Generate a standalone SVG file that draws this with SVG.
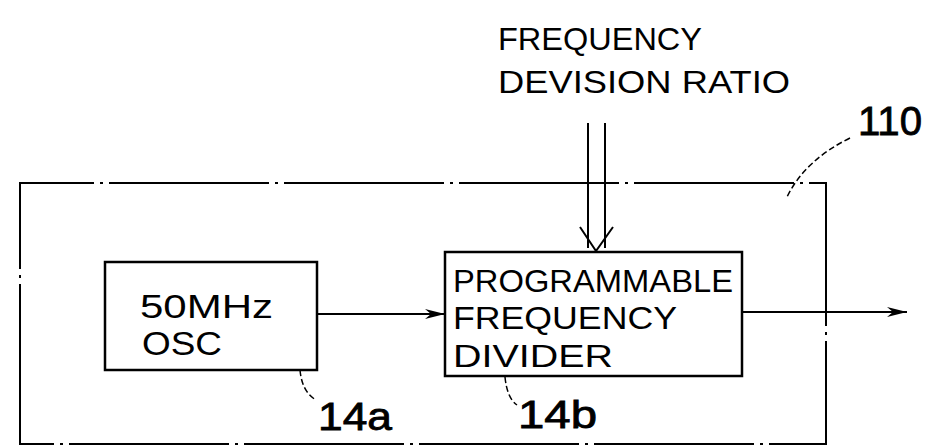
<svg xmlns="http://www.w3.org/2000/svg" width="928" height="447" viewBox="0 0 928 447">
<style>
.t{font-family:"Liberation Sans","DejaVu Sans",sans-serif;fill:#000}
.r{stroke:#000;stroke-width:0.8}
.box{fill:#fff;stroke:#000;stroke-width:2.5}
.ln{fill:none;stroke:#000;stroke-width:2}
.frame{fill:none;stroke:#000;stroke-width:2;stroke-dasharray:160 6 3 6}
.lead{fill:none;stroke:#000;stroke-width:1.5;stroke-dasharray:6 3}
</style>
<defs>
<marker id="ah" markerWidth="20" markerHeight="12" refX="20" refY="6" orient="auto" markerUnits="userSpaceOnUse">
<path d="M0,1 L20,6 L0,11 L6,6 Z" fill="#000"/>
</marker>
</defs>
<rect width="928" height="447" fill="#fff"/>
<g id="frame110">
<path class="frame" d="M20,444 L20,183 L826,183 L826,444 Z"/>
</g>
<g id="connectors">
<line class="ln" x1="317" y1="314" x2="445" y2="314" marker-end="url(#ah)"/>
<line class="ln" x1="742" y1="312" x2="907" y2="312" marker-end="url(#ah)"/>
<line class="ln" x1="588" y1="123" x2="588" y2="248"/>
<line class="ln" x1="605" y1="123" x2="605" y2="248"/>
<path class="ln" d="M580,227 L596,251 L613,227"/>
</g>
<g id="osc">
<rect class="box" x="105" y="262" width="212" height="108"/>
<text class="t" x="140" y="318" font-size="34" textLength="133" lengthAdjust="spacingAndGlyphs">50MHz</text>
<text class="t" x="142" y="355" font-size="34" textLength="80" lengthAdjust="spacingAndGlyphs">OSC</text>
</g>
<g id="divider">
<rect class="box" x="445" y="252" width="297" height="124"/>
<text class="t" x="453" y="292" font-size="32" textLength="280" lengthAdjust="spacingAndGlyphs">PROGRAMMABLE</text>
<text class="t" x="453" y="329" font-size="32" textLength="224" lengthAdjust="spacingAndGlyphs">FREQUENCY</text>
<text class="t" x="453" y="367" font-size="32" textLength="160" lengthAdjust="spacingAndGlyphs">DIVIDER</text>
</g>
<g id="input-label">
<text class="t" x="498" y="50" font-size="31" textLength="204" lengthAdjust="spacingAndGlyphs">FREQUENCY</text>
<text class="t" x="498" y="93" font-size="31" textLength="292" lengthAdjust="spacingAndGlyphs">DEVISION RATIO</text>
</g>
<g id="ref-labels">
<text class="t r" x="858" y="135" font-size="40" textLength="64" lengthAdjust="spacingAndGlyphs">110</text>
<path class="lead" d="M850,138 Q805,160 787,197"/>
<text class="t r" x="318" y="430" font-size="38" textLength="74" lengthAdjust="spacingAndGlyphs">14a</text>
<path class="lead" d="M300,370 Q302,392 316,400"/>
<text class="t r" x="518" y="428" font-size="38" textLength="79" lengthAdjust="spacingAndGlyphs">14b</text>
<path class="lead" d="M505,377 Q507,398 517,405"/>
</g>
</svg>
